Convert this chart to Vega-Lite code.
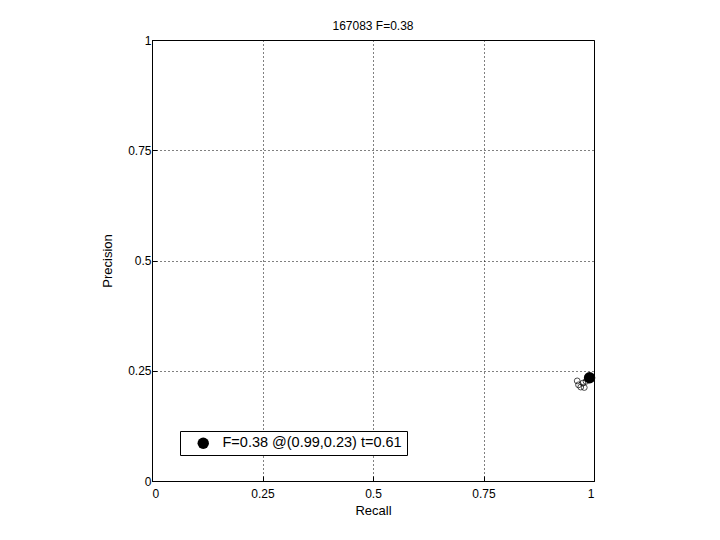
{
  "$schema": "https://vega.github.io/schema/vega-lite/v6.json",
  "width": 442,
  "height": 441,
  "autosize": {"type": "none"},
  "padding": {"left": 152, "top": 40, "right": 126, "bottom": 59},
  "background": "white",
  "title": {"text": "167083 F=0.38", "fontSize": 12, "fontWeight": "normal", "font": "Liberation Sans", "color": "black", "offset": 1},
  "datasets": {
    "pts": [
      {"recall": 0.962, "precision": 0.227},
      {"recall": 0.965, "precision": 0.218},
      {"recall": 0.970, "precision": 0.213},
      {"recall": 0.975, "precision": 0.222},
      {"recall": 0.978, "precision": 0.212},
      {"recall": 0.982, "precision": 0.226},
      {"recall": 0.985, "precision": 0.232}
    ],
    "best": [
      {"recall": 0.99, "precision": 0.234, "label": "F=0.38 @(0.99,0.23) t=0.61"}
    ]
  },
  "layer": [
    {
      "data": {"name": "pts"},
      "mark": {"type": "point", "shape": "circle", "filled": false, "stroke": "black", "strokeWidth": 1, "size": 34},
      "encoding": {
        "x": {"field": "recall", "type": "quantitative", "scale": {"domain": [0, 1]}, "title": "Recall",
              "axis": {"values": [0, 0.25, 0.5, 0.75, 1], "labelExpr": "'' + datum.value"}},
        "y": {"field": "precision", "type": "quantitative", "scale": {"domain": [0, 1]}, "title": "Precision",
              "axis": {"values": [0, 0.25, 0.5, 0.75, 1], "labelExpr": "'' + datum.value"}}
      }
    },
    {
      "data": {"name": "best"},
      "mark": {"type": "point", "shape": "circle", "filled": true, "size": 130, "opacity": 1},
      "encoding": {
        "x": {"field": "recall", "type": "quantitative"},
        "y": {"field": "precision", "type": "quantitative"},
        "color": {"field": "label", "type": "nominal", "scale": {"range": ["black"]},
                  "legend": {"title": null, "orient": "none", "legendX": 28, "legendY": 391}}
      }
    }
  ],
  "config": {
    "view": {"stroke": "black", "strokeWidth": 1},
    "axis": {
      "domainColor": "black",
      "tickColor": "black",
      "tickSize": -5,
      "labelFont": "Liberation Sans",
      "labelFontSize": 12,
      "labelColor": "black",
      "titleFont": "Liberation Sans",
      "titleFontSize": 13,
      "titleFontWeight": "normal",
      "titleColor": "black",
      "grid": true,
      "gridColor": "black",
      "gridDash": [1, 3],
      "gridOpacity": 1,
      "gridWidth": 1
    },
    "axisX": {"titlePadding": 5, "labelPadding": 12},
    "axisY": {"titlePadding": 13, "labelPadding": 6},
    "legend": {
      "strokeColor": "black",
      "fillColor": "white",
      "padding": 5,
      "cornerRadius": 0,
      "labelFont": "Liberation Sans",
      "labelFontSize": 14.5,
      "labelColor": "black",
      "symbolSize": 130,
      "symbolType": "circle",
      "symbolOffset": 11,
      "labelOffset": 12,
      "labelLimit": 300
    }
  }
}
